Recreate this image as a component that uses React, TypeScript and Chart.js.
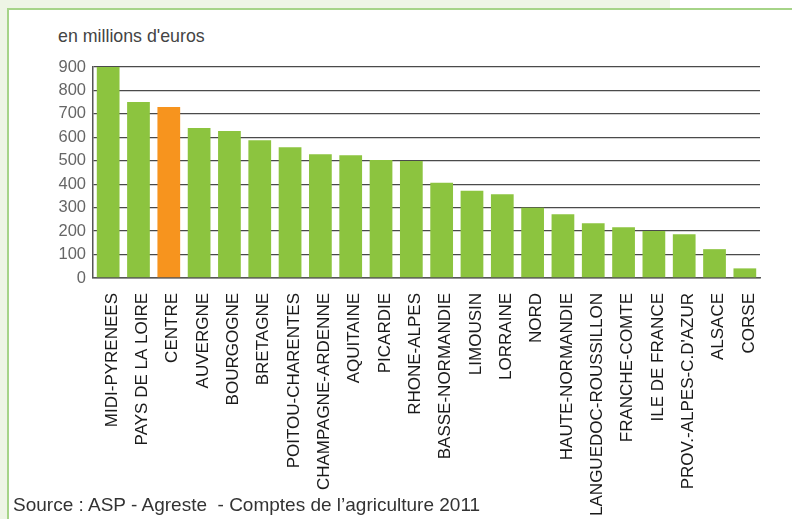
import React, { useEffect, useRef } from "react";
import { Chart, registerables } from "chart.js";

Chart.register(...registerables);

const regions = [
  "MIDI-PYRENEES",
  "PAYS DE LA LOIRE",
  "CENTRE",
  "AUVERGNE",
  "BOURGOGNE",
  "BRETAGNE",
  "POITOU-CHARENTES",
  "CHAMPAGNE-ARDENNE",
  "AQUITAINE",
  "PICARDIE",
  "RHONE-ALPES",
  "BASSE-NORMANDIE",
  "LIMOUSIN",
  "LORRAINE",
  "NORD",
  "HAUTE-NORMANDIE",
  "LANGUEDOC-ROUSSILLON",
  "FRANCHE-COMTE",
  "ILE DE FRANCE",
  "PROV.-ALPES-C.D'AZUR",
  "ALSACE",
  "CORSE",
];

const values = [
  905, 751, 729, 640, 627, 588, 558, 528, 524, 503, 499, 406, 372, 357, 300,
  272, 234, 217, 201, 187, 123, 41,
];

const highlighted = "CENTRE";
const unitLabel = "en millions d'euros";
const sourceLabel = "Source : ASP - Agreste  - Comptes de l\u2019agriculture 2011";

const GREEN = "#8cc43f";
const ORANGE = "#f7941e";
const FONT = "'Liberation Sans', Arial, Helvetica, sans-serif";

export default function App() {
  const ref = useRef<HTMLCanvasElement | null>(null);

  useEffect(() => {
    if (!ref.current) return;
    const chart = new Chart(ref.current, {
      type: "bar",
      data: {
        labels: regions,
        datasets: [
          {
            data: values,
            backgroundColor: regions.map((r) => (r === highlighted ? ORANGE : GREEN)),
            barPercentage: 0.75,
            categoryPercentage: 1,
          },
        ],
      },
      options: {
        responsive: false,
        animation: false,
        layout: { padding: { left: 40, top: 67, right: 32, bottom: 0 } },
        plugins: { legend: { display: false }, tooltip: { enabled: false } },
        scales: {
          y: {
            min: 0,
            max: 900,
            ticks: {
              stepSize: 100,
              color: "#666",
              padding: 7,
              font: { family: FONT, size: 16.5 },
            },
            grid: { color: "#4a4a4a", lineWidth: 1.3, drawTicks: false },
            border: { display: true, color: "#555", width: 1.5 },
            afterFit: (scale: any) => {
              scale.width = 53;
            },
          },
          x: {
            grid: { display: false, drawTicks: false },
            border: { display: true, color: "#555", width: 1.5 },
            ticks: {
              autoSkip: false,
              minRotation: 90,
              maxRotation: 90,
              labelOffset: 4,
              color: "#1a1a1a",
              padding: 15,
              font: { family: FONT, size: 17 },
            },
            afterFit: (scale: any) => {
              scale.height = 241;
            },
          },
        },
      },
    });
    return () => chart.destroy();
  }, []);

  return (
    <div
      style={{
        position: "fixed",
        left: 0,
        top: 0,
        width: 792,
        height: 519,
        overflow: "hidden",
        background: "#fff",
        fontFamily: FONT,
      }}
    >
      <div style={{ position: "absolute", left: 0, top: 0, width: 670, height: 9, background: "#eef5e5" }} />
      <div style={{ position: "absolute", left: 0, top: 0, width: 8, height: 519, background: "#eef5e5" }} />
      <div style={{ position: "absolute", left: 8, top: 8, width: 784, height: 2, background: "#a6d488" }} />
      <div style={{ position: "absolute", left: 7, top: 8, width: 2, height: 511, background: "#a6d488" }} />
      <div
        style={{
          position: "absolute",
          left: 58,
          top: 26,
          fontSize: 17.8,
          color: "#444",
          whiteSpace: "pre",
        }}
      >
        {unitLabel}
      </div>
      <canvas ref={ref} width={792} height={519} style={{ position: "absolute", left: 0, top: 0 }} />
      <div
        style={{
          position: "absolute",
          left: 13,
          top: 493,
          fontSize: 19,
          lineHeight: "24px",
          color: "#333",
          whiteSpace: "pre",
          background: "#fff",
        }}
      >
        {sourceLabel}
      </div>
    </div>
  );
}
